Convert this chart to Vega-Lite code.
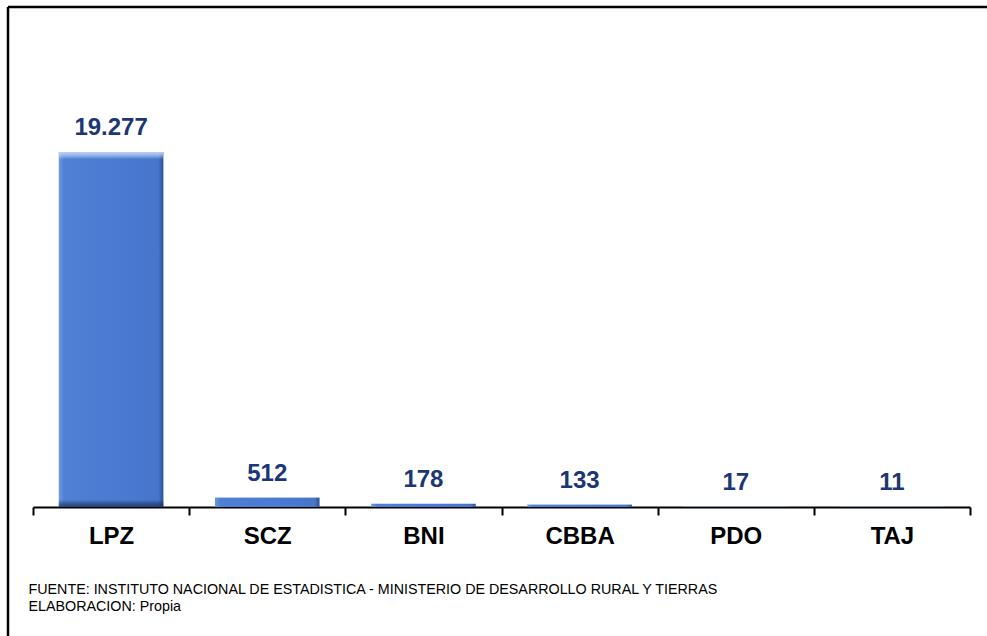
{
  "$schema": "https://vega.github.io/schema/vega-lite/v6.json",
  "autosize": {"type": "none"},
  "padding": {"left": 8, "top": 7, "right": 0, "bottom": 0},
  "width": 979,
  "height": 629,
  "background": "white",
  "config": {
    "view": {"stroke": "#000", "strokeWidth": 2.5, "strokeDash": [979, 1608, 629, 0]},
    "font": "Liberation Sans",
    "locale": {"number": {"decimal": ",", "thousands": ".", "grouping": [3], "currency": ["", ""]}}
  },
  "data": {
    "values": [
      {"dep": "LPZ", "valor": 19277},
      {"dep": "SCZ", "valor": 512},
      {"dep": "BNI", "valor": 178},
      {"dep": "CBBA", "valor": 133},
      {"dep": "PDO", "valor": 17},
      {"dep": "TAJ", "valor": 11}
    ]
  },
  "encoding": {
    "x": {
      "field": "dep",
      "type": "nominal",
      "sort": null,
      "scale": {"range": [25, 962], "paddingInner": 0, "paddingOuter": 0},
      "axis": {
        "title": ["FUENTE:  INSTITUTO  NACIONAL  DE ESTADISTICA - MINISTERIO  DE DESARROLLO  RURAL  Y TIERRAS", "ELABORACION:  Propia"],
        "titleFont": "Liberation Sans",
        "titleFontSize": 14.3,
        "titleFontWeight": "normal",
        "titleColor": "#000",
        "titleAnchor": "start",
        "titleAlign": "left",
        "titleBaseline": "top",
        "titleX": 20,
        "titleY": 75,
        "titleLineHeight": 17,
        "labelFont": "Liberation Sans",
        "labelFontSize": 24,
        "labelFontWeight": "bold",
        "labelColor": "#000",
        "labelPadding": 9,
        "labelAngle": 0,
        "tickBand": "extent",
        "tickSize": 8,
        "tickWidth": 2,
        "tickColor": "#000",
        "domainColor": "#000",
        "domainWidth": 2,
        "offset": -129,
        "grid": false
      }
    },
    "y": {
      "field": "valor",
      "type": "quantitative",
      "scale": {"domain": [0, 19277], "range": [500, 145], "nice": false},
      "axis": null
    }
  },
  "layer": [
    {
      "mark": {
        "type": "bar",
        "width": {"band": 0.67},
        "color": {
          "gradient": "linear", "x1": 0, "y1": 0, "x2": 1, "y2": 0,
          "stops": [
            {"offset": 0, "color": "#7099E2"},
            {"offset": 0.05, "color": "#5080D4"},
            {"offset": 0.5, "color": "#4B7BD2"},
            {"offset": 0.95, "color": "#4676CC"},
            {"offset": 1, "color": "#2C5299"}
          ]
        }
      }
    },
    {
      "mark": {
        "type": "bar",
        "width": {"band": 0.67},
        "color": {
          "gradient": "linear", "x1": 0, "y1": 0, "x2": 0, "y2": 1,
          "stops": [
            {"offset": 0, "color": "rgba(190,212,250,0.95)"},
            {"offset": 0.02, "color": "rgba(255,255,255,0)"},
            {"offset": 0.98, "color": "rgba(0,0,0,0)"},
            {"offset": 1, "color": "rgba(20,40,90,0.7)"}
          ]
        }
      }
    },
    {
      "mark": {
        "type": "text",
        "baseline": "bottom",
        "dy": -12,
        "font": "Liberation Sans",
        "fontSize": 24,
        "fontWeight": "bold",
        "color": "#1C3775"
      },
      "encoding": {
        "text": {"field": "valor", "type": "quantitative", "format": ",d"}
      }
    }
  ]
}
